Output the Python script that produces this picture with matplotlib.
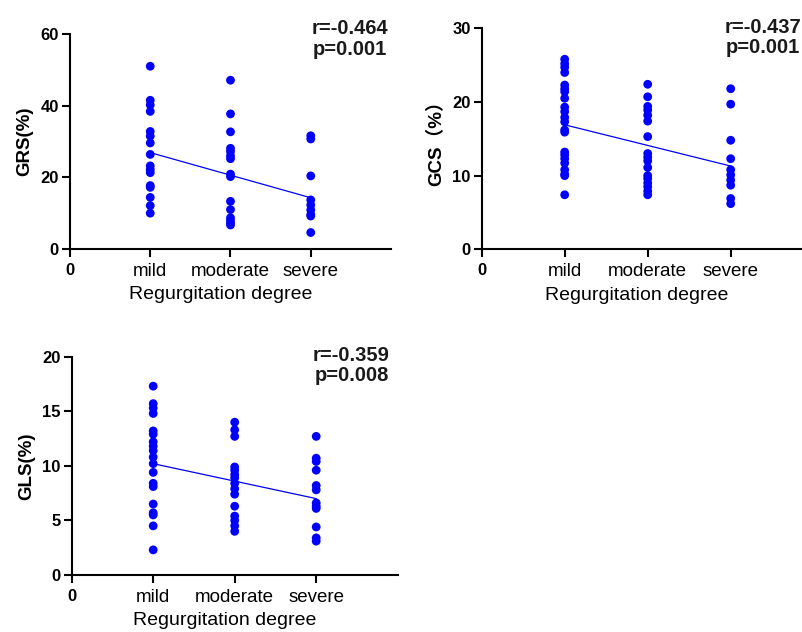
import numpy as np
import matplotlib
matplotlib.use("Agg")
import matplotlib.pyplot as plt

plt.rcParams['font.family'] = ['Liberation Sans', 'Noto Sans CJK SC', 'DejaVu Sans']

# categories on the x axis (0 is the empty origin tick)
x_ticklabels = ['0', 'mild', 'moderate', 'severe']
x_label = 'Regurgitation degree'

# GRS(%)
grs_mild = [51.0, 41.5, 40.2, 38.4, 32.8, 31.5, 29.6, 26.4, 23.2, 22.2, 21.3, 17.7, 17.2, 14.4, 12.1, 10.0]
grs_moderate = [47.1, 37.7, 32.7, 28.1, 27.2, 26.0, 25.2, 20.9, 20.2, 13.3, 11.0, 8.7, 7.9, 7.2, 6.7]
grs_severe = [31.6, 30.7, 20.4, 13.7, 12.3, 10.9, 9.6, 9.2, 4.6]
grs_fit = [26.9, 14.3]
grs_stats = 'r=-0.464\np=0.001'

# GCS(%)
gcs_mild = [25.8, 25.2, 24.7, 24.0, 22.3, 21.8, 21.4, 20.5, 19.3, 18.7, 17.9, 17.3,
            16.2, 15.9, 13.2, 12.8, 12.3, 11.7, 10.8, 10.2, 10.0, 7.4]
gcs_moderate = [22.4, 20.7, 19.4, 18.9, 18.2, 17.4, 15.3, 13.0, 12.5, 12.0, 11.1,
                10.0, 9.6, 9.0, 8.5, 7.9, 7.4]
gcs_severe = [21.8, 19.7, 14.8, 12.3, 10.8, 10.1, 9.4, 8.7, 6.9, 6.2]
gcs_fit = [16.9, 11.3]
gcs_stats = 'r=-0.437\np=0.001'

# GLS(%)
gls_mild = [17.3, 15.7, 15.3, 14.8, 13.2, 12.9, 12.2, 11.8, 11.4, 10.8, 10.2, 9.4,
            8.4, 8.1, 6.5, 5.7, 5.5, 4.5, 2.3]
gls_moderate = [14.0, 13.3, 12.7, 9.9, 9.6, 9.2, 8.9, 8.4, 7.9, 7.4, 6.3, 5.4, 5.0, 4.5, 4.0]
gls_severe = [12.7, 10.7, 10.4, 9.6, 8.2, 7.8, 6.6, 6.3, 6.1, 4.4, 3.4, 3.1]
gls_fit = [10.2, 7.0]
gls_stats = 'r=-0.359\np=0.008'

BLUE = '#0000ff'
W, H = 803, 632


def draw_panel(rect_px, groups, fit, ylabel, yticks, stats, stats_x, stats_y):
    """rect_px = (left, top, right, bottom) in pixels"""
    l, t, r, b = rect_px
    ax = fig.add_axes([l / W, 1 - b / H, (r - l) / W, (b - t) / H])

    for i, vals in enumerate(groups, start=1):
        ax.scatter(np.full(len(vals), i), vals, s=40, color=BLUE,
                   edgecolors='none', zorder=3, clip_on=False)
    ax.plot([1, 3], fit, color=BLUE, lw=0.9, zorder=2)

    ax.set_xlim(0, 4)
    ax.set_ylim(yticks[0], yticks[-1])
    ax.set_xticks(range(4))
    ax.set_xticklabels(x_ticklabels, fontsize=13.5)
    first = ax.get_xticklabels()[0]
    first.set_fontweight('bold')
    first.set_fontsize(12)
    ax.set_yticks(yticks)
    ax.set_yticklabels([str(v) for v in yticks], fontsize=12, fontweight='bold')

    for side in ['top', 'right']:
        ax.spines[side].set_visible(False)
    for side in ['left', 'bottom']:
        ax.spines[side].set_linewidth(1.5)
    ax.tick_params(length=6, width=1.5, pad=2)
    ax.tick_params(axis='x', pad=4)

    ax.set_ylabel(ylabel, fontsize=13.5, fontweight='bold', labelpad=5)
    ax.set_xlabel(x_label, fontsize=14)
    ax.xaxis.set_label_coords(0.468, -0.17)

    ax.text(stats_x, stats_y, stats, transform=ax.transAxes, ha='center', va='top',
            multialignment='center', fontsize=14.5, fontweight='bold',
            color='#1a1a1a', linespacing=1.1)
    return ax


fig = plt.figure(figsize=(W / 100, H / 100), dpi=100)

draw_panel((70, 34, 391, 249), [grs_mild, grs_moderate, grs_severe], grs_fit,
           'GRS(%)', [0, 20, 40, 60], grs_stats, 0.872, 1.068)
draw_panel((481.7, 28.3, 813.7, 249.3), [gcs_mild, gcs_moderate, gcs_severe], gcs_fit,
           'GCS（%）', [0, 10, 20, 30], gcs_stats, 0.848, 1.048)
draw_panel((71.7, 356.7, 397.7, 575), [gls_mild, gls_moderate, gls_severe], gls_fit,
           'GLS(%)', [0, 5, 10, 15, 20], gls_stats, 0.858, 1.05)

fig.savefig('out.png', dpi=100)
